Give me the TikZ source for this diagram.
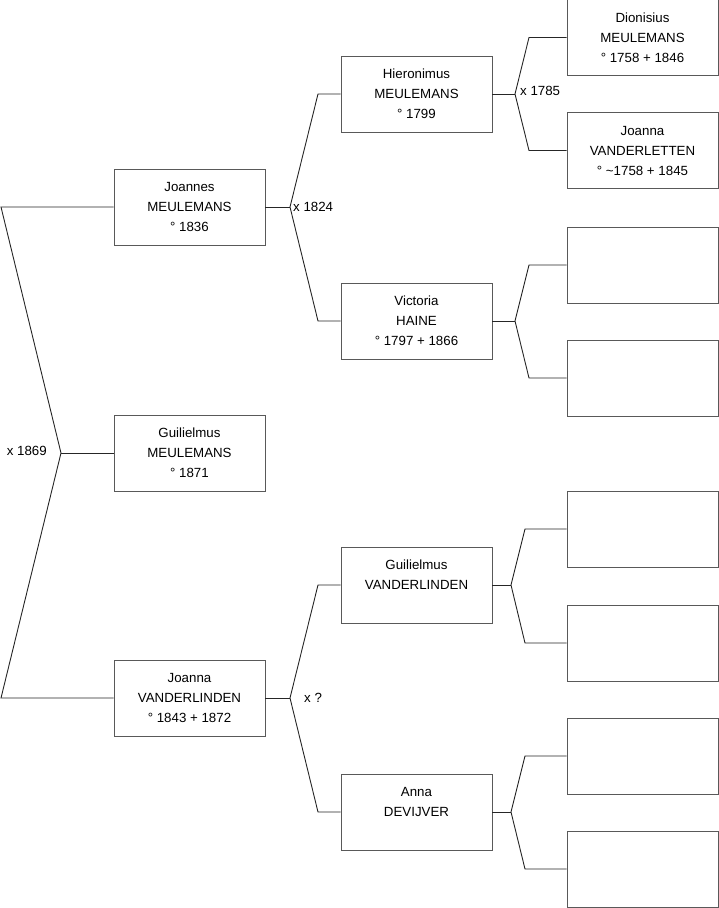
\documentclass[tikz,border=0pt]{standalone}
\usepackage{fontspec}
\setmainfont{Liberation Sans}
\usetikzlibrary{positioning,calc}

\begin{document}
\begin{tikzpicture}[
    x=1pt, y=-1pt,
    box/.style={draw=black!65, line width=0.9pt, minimum width=151pt, minimum height=76pt, inner sep=0pt, align=center, font=\fontsize{13.3}{20}\selectfont},
    link/.style={draw=black!85, line width=0.9pt},
    marr/.style={font=\fontsize{13.3}{15}\selectfont, inner sep=0pt},
]
    \useasboundingbox (0,0) rectangle (719,908);

    % generation 1
    \node[box] (joannes) at (189.5,207) {Joannes\\MEULEMANS\\° 1836};
    \node[box] (guilm) at (189.5,453) {Guilielmus\\MEULEMANS\\° 1871};
    \node[box] (joannavl) at (189.5,698) {Joanna\\VANDERLINDEN\\° 1843 + 1872};

    % generation 2
    \node[box] (hieron) at (416.5,94) {Hieronimus\\MEULEMANS\\° 1799};
    \node[box] (victoria) at (416.5,321) {Victoria\\HAINE\\° 1797 + 1866};
    \node[box] (guilvl) at (416.5,585) {Guilielmus\\VANDERLINDEN\\~};
    \node[box] (anna) at (416.5,812) {Anna\\DEVIJVER\\~};

    % generation 3
    \node[box] (dionis) at (642.5,37.5) {Dionisius\\MEULEMANS\\° 1758 + 1846};
    \node[box] (joannavt) at (642.5,150.5) {Joanna\\VANDERLETTEN\\° \textasciitilde1758 + 1845};
    \node[box] (empty1) at (642.5,265) {};
    \node[box] (empty2) at (642.5,378) {};
    \node[box] (empty3) at (642.5,529) {};
    \node[box] (empty4) at (642.5,643) {};
    \node[box] (empty5) at (642.5,756) {};
    \node[box] (empty6) at (642.5,869) {};

    % marriage forks
    \coordinate (top0) at (1,207);
    \coordinate (bot0) at (1,698);
    \coordinate (fork0) at (61,453);
    \draw[link] (joannes.west) -- (top0) -- (fork0) -- (bot0) -- (joannavl.west);
    \draw[link] (fork0) -- (guilm.west);
    \node[marr, anchor=east] at ($(fork0)+(-14,-2)$) {x 1869};

    \coordinate (fork1) at (290,207);
    \coordinate (top1) at (318,94);
    \coordinate (bot1) at (318,321);
    \draw[link] (joannes.east) -- (fork1);
    \draw[link] (hieron.west) -- (top1) -- (fork1) -- (bot1) -- (victoria.west);
    \node[marr, anchor=west] at ($(fork1)+(3,0)$) {x 1824};

    \coordinate (fork2) at (290,698);
    \coordinate (top2) at (318,585);
    \coordinate (bot2) at (318,812);
    \draw[link] (joannavl.east) -- (fork2);
    \draw[link] (guilvl.west) -- (top2) -- (fork2) -- (bot2) -- (anna.west);
    \node[marr, anchor=west] at ($(fork2)+(14,0)$) {x ?};

    \coordinate (fork3) at (515,94);
    \coordinate (top3) at (529,37.5);
    \coordinate (bot3) at (529,150.5);
    \draw[link] (hieron.east) -- (fork3);
    \draw[link] (dionis.west) -- (top3) -- (fork3) -- (bot3) -- (joannavt.west);
    \node[marr, anchor=west] at ($(fork3)+(5,-3)$) {x 1785};

    \coordinate (fork4) at (515,321);
    \coordinate (top4) at (529,265);
    \coordinate (bot4) at (529,378);
    \draw[link] (victoria.east) -- (fork4);
    \draw[link] (empty1.west) -- (top4) -- (fork4) -- (bot4) -- (empty2.west);

    \coordinate (fork5) at (511,585);
    \coordinate (top5) at (525,529);
    \coordinate (bot5) at (525,643);
    \draw[link] (guilvl.east) -- (fork5);
    \draw[link] (empty3.west) -- (top5) -- (fork5) -- (bot5) -- (empty4.west);

    \coordinate (fork6) at (511,812);
    \coordinate (top6) at (525,756);
    \coordinate (bot6) at (525,869);
    \draw[link] (anna.east) -- (fork6);
    \draw[link] (empty5.west) -- (top6) -- (fork6) -- (bot6) -- (empty6.west);
\end{tikzpicture}
\end{document}
